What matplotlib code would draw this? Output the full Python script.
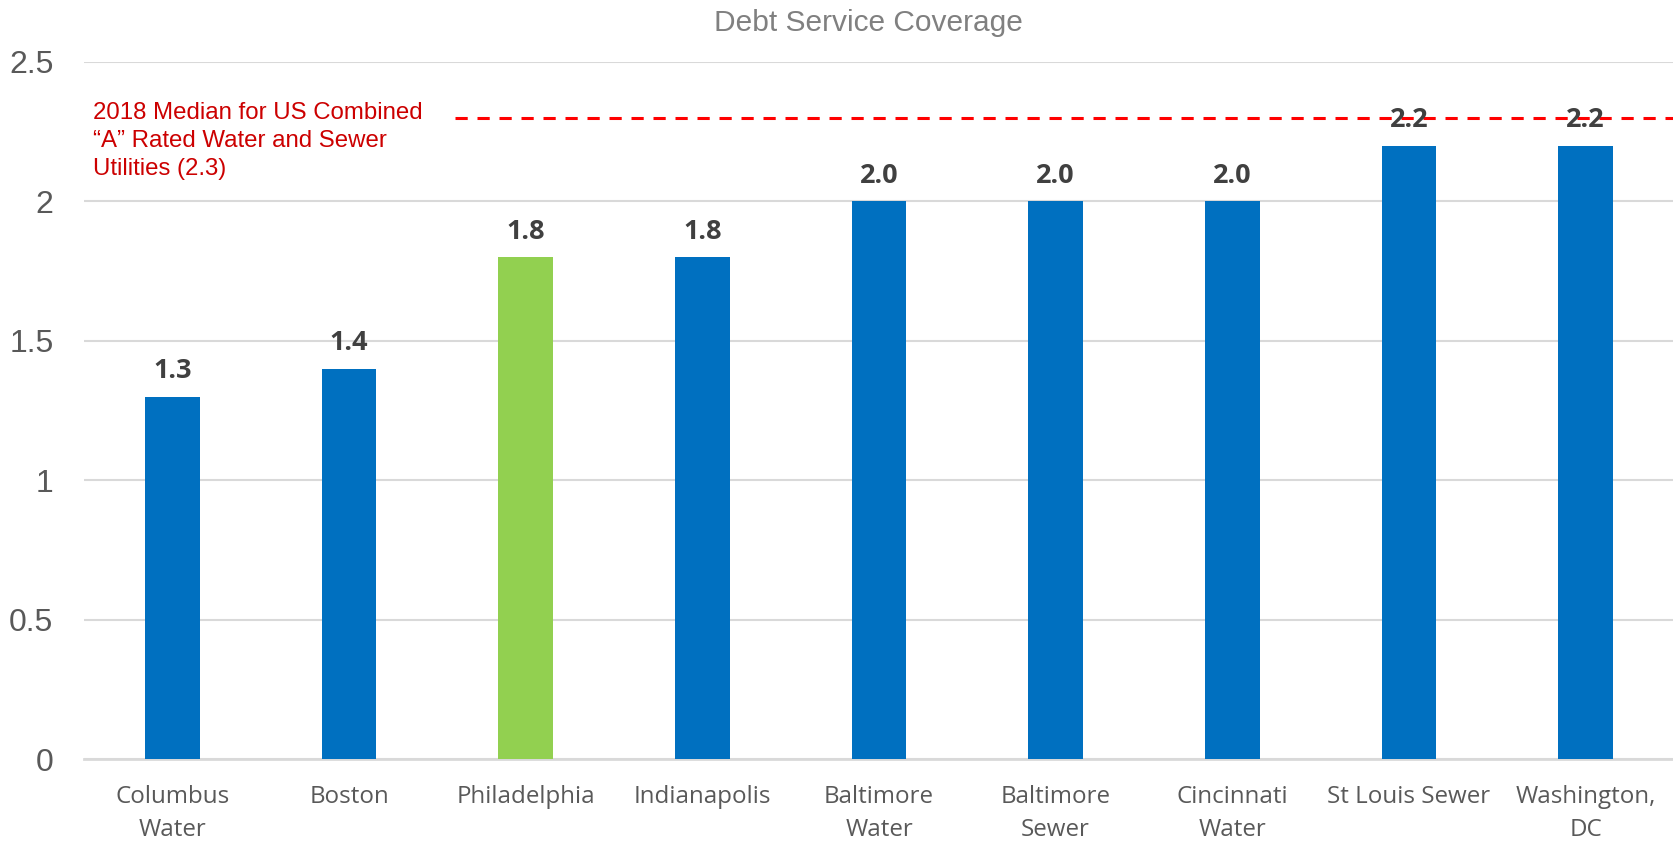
import numpy as np
import matplotlib
matplotlib.use('Agg')
import matplotlib.pyplot as plt

##########################################################
# data
##########################################################
#
categories = ['Columbus\nWater', 'Boston', 'Philadelphia', 'Indianapolis',
              'Baltimore\nWater', 'Baltimore\nSewer', 'Cincinnati\nWater',
              'St Louis Sewer', 'Washington,\nDC']
coverage = [1.3, 1.4, 1.8, 1.8, 2.0, 2.0, 2.0, 2.2, 2.2]
highlight = 'Philadelphia'
median_value = 2.3
median_label = '2018 Median for US Combined\n\u201cA\u201d Rated Water and Sewer\nUtilities (2.3)'
y_ticks = [0, 0.5, 1, 1.5, 2, 2.5]
y_tick_labels = ['0', '0.5', '1', '1.5', '2', '2.5']

blue, green = '#0070C0', '#92D050'
grid_col = '#D9D9D9'
text_col = '#595959'

##########################################################
# plotting
##########################################################
#
fig = plt.figure(figsize=(16.74, 8.43), dpi=100)
ax = fig.add_axes([0.0502, 0.0996, 0.9498, 0.8269])

x = np.arange(len(categories))
colors = [green if c == highlight else blue for c in categories]
bars = ax.bar(x, coverage, width=0.31, color=colors, zorder=3)

for xi, v in zip(x, coverage):
    ax.annotate('{:.1f}'.format(v), (xi, v), xytext=(0, 9), textcoords='offset points',
                ha='center', va='bottom', fontsize=19.5, fontweight='bold',
                color='#404040', family='Open Sans', zorder=5)

# median reference line
ax.hlines(median_value, 1.6, len(categories) - 0.5, colors='#FF0000',
          linestyles=(0, (4, 3.2)), linewidth=2.2, zorder=4)
ax.text(-0.45, 2.355, median_label, color='#CC0000', fontsize=17.3,
        family='Liberation Sans', va='top', ha='left', linespacing=1.33)

ax.set_xlim(-0.5, len(categories) - 0.5)
ax.set_ylim(0, 2.5)
ax.set_yticks(y_ticks)
ax.set_yticklabels(y_tick_labels, fontsize=23, color=text_col, family='Liberation Sans')
ax.set_xticks(x)
ax.set_xticklabels(categories, fontsize=17.4, color=text_col, family='Open Sans', linespacing=1.45)
ax.tick_params(axis='y', length=0, pad=22)
ax.tick_params(axis='x', length=0, pad=19)
ax.yaxis.grid(True, color=grid_col, linewidth=1.5, zorder=0)
ax.set_axisbelow(True)
for s in ['top', 'right', 'left']:
    ax.spines[s].set_visible(False)
ax.spines['bottom'].set_color(grid_col)
ax.spines['bottom'].set_linewidth(2)
ax.spines['bottom'].set_zorder(2)

fig.text(0.519, 0.973, 'Debt Service Coverage', ha='center', va='center',
         fontsize=21.5, color='#808080', family='Liberation Sans')

fig.savefig('out.png', dpi=100)
